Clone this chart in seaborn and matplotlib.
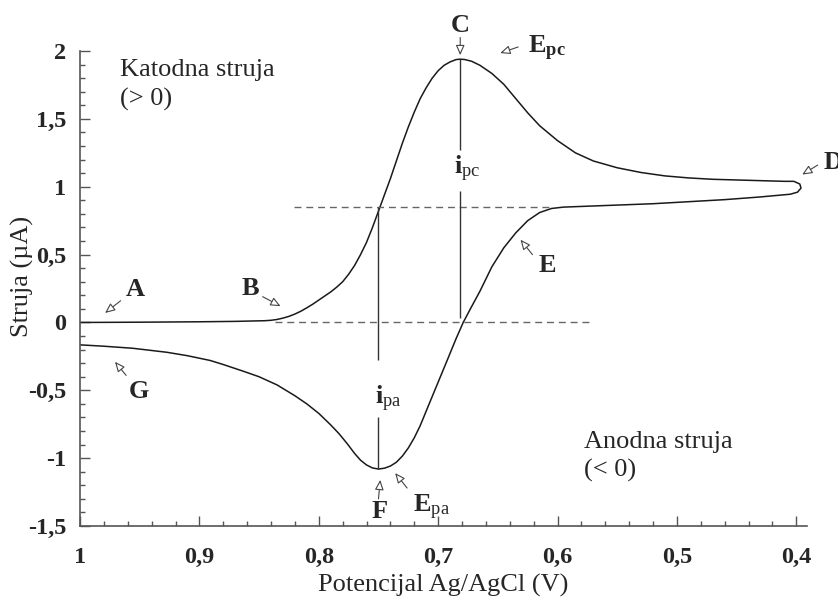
import matplotlib
matplotlib.use("Agg")
import matplotlib.pyplot as plt
import seaborn as sns
import pandas as pd
from matplotlib.ticker import MultipleLocator, FuncFormatter

# Cyclic voltammogram (forward scan, then return scan)
potential = [1.000, 0.950, 0.900, 0.870, 0.850, 0.845, 0.840, 0.835, 0.830, 0.825,
             0.820, 0.815, 0.810, 0.805, 0.800, 0.795, 0.790, 0.785, 0.780, 0.775,
             0.770, 0.765, 0.760, 0.755, 0.750, 0.745, 0.740, 0.735, 0.730, 0.725,
             0.720, 0.715, 0.710, 0.705, 0.700, 0.695, 0.690, 0.685, 0.682, 0.678,
             0.672, 0.665, 0.655, 0.645, 0.635, 0.625, 0.615, 0.600,
             0.585, 0.570, 0.550, 0.530, 0.510, 0.490, 0.470, 0.450, 0.430, 0.410,
             0.402, 0.397, 0.396, 0.399, 0.405,
             0.430, 0.460, 0.490, 0.520, 0.550, 0.580, 0.595, 0.605, 0.615, 0.625,
             0.635, 0.645, 0.655, 0.665, 0.673, 0.679, 0.685, 0.692, 0.700, 0.708,
             0.715, 0.720, 0.725, 0.730, 0.735, 0.740, 0.745, 0.750, 0.755, 0.760,
             0.765, 0.770, 0.776, 0.783, 0.790, 0.800, 0.810, 0.820, 0.835, 0.850,
             0.863, 0.880, 0.891, 0.910, 0.927, 0.956, 0.980, 1.000]
current = [0.000, 0.002, 0.005, 0.008, 0.012, 0.013, 0.016, 0.022, 0.032, 0.045,
           0.062, 0.083, 0.108, 0.135, 0.165, 0.195, 0.225, 0.260, 0.300, 0.355,
           0.420, 0.500, 0.590, 0.700, 0.820, 0.940, 1.060, 1.190, 1.320, 1.440,
           1.550, 1.650, 1.730, 1.800, 1.855, 1.895, 1.920, 1.937, 1.940, 1.938,
           1.925, 1.895, 1.835, 1.755, 1.650, 1.545, 1.450, 1.340,
           1.250, 1.190, 1.140, 1.105, 1.080, 1.065, 1.055, 1.050, 1.045, 1.040,
           1.040, 1.020, 0.990, 0.960, 0.945,
           0.925, 0.905, 0.890, 0.875, 0.865, 0.855, 0.850, 0.840, 0.810, 0.750,
           0.660, 0.550, 0.410, 0.230, 0.100, 0.000, -0.120, -0.270, -0.440, -0.610,
           -0.760, -0.850, -0.925, -0.985, -1.030, -1.058, -1.074, -1.080, -1.072, -1.050,
           -1.015, -0.965, -0.895, -0.820, -0.755, -0.670, -0.600, -0.540, -0.460, -0.400,
           -0.360, -0.310, -0.280, -0.245, -0.220, -0.190, -0.175, -0.165]

# construction lines
baseline_levels = [0.0, 0.85]
baseline_from = [0.837, 0.821]
baseline_to = [0.574, 0.605]
peak_e = [0.682, 0.750]
peak_i = [1.94, -1.08]

df = pd.DataFrame({"E": potential, "I": current})

sns.set_theme(style="ticks")
plt.rcParams["font.family"] = ["Liberation Serif", "DejaVu Serif"]
plt.rcParams["mathtext.fontset"] = "custom"
plt.rcParams["mathtext.rm"] = "Liberation Serif"
plt.rcParams["mathtext.bf"] = "Liberation Serif:bold"
plt.rcParams["mathtext.it"] = "Liberation Serif:italic"

fs = 19
fig = plt.figure(figsize=(8.38, 6.02), dpi=100)
ax = fig.add_axes([0.0955, 0.1262, 0.8675, 0.789])

sns.lineplot(data=df, x="E", y="I", sort=False, estimator=None,
             color="#1a1a1a", lw=1.1, ax=ax)

for lev, a, b in zip(baseline_levels, baseline_from, baseline_to):
    ax.hlines(lev, a, b, colors="#666666", linestyles=(0, (5, 3.5)), lw=1.0)

# i_pc : peak line split round the label
ax.vlines(peak_e[0], 1.27, peak_i[0], colors="#333333", lw=1.0)
ax.vlines(peak_e[0], 0.03, 0.97, colors="#333333", lw=1.0)
# i_pa
ax.vlines(peak_e[1], -0.28, 0.85, colors="#333333", lw=1.0)
ax.vlines(peak_e[1], peak_i[1], -0.70, colors="#333333", lw=1.0)

ax.set_xlim(1.0, 0.391)
ax.set_ylim(-1.5, 2.0)
ax.xaxis.set_major_locator(MultipleLocator(0.1))
ax.xaxis.set_minor_locator(MultipleLocator(0.02))
ax.yaxis.set_major_locator(MultipleLocator(0.5))
ax.yaxis.set_minor_locator(MultipleLocator(0.1))
comma = FuncFormatter(lambda v, p: f"{round(v, 2):g}".replace(".", ","))
ax.xaxis.set_major_formatter(comma)
ax.yaxis.set_major_formatter(comma)

ax.tick_params(which="major", direction="in", length=7, width=1.0, color="#555555",
               labelsize=17.5)
ax.tick_params(which="minor", direction="in", length=3.5, width=1.0, color="#555555")
ax.tick_params(axis="x", pad=15)
ax.tick_params(axis="y", pad=10)
for t in ax.get_xticklabels() + ax.get_yticklabels():
    t.set_fontweight("bold")

sns.despine(ax=ax)
for s in ["left", "bottom"]:
    ax.spines[s].set_color("#555555")
    ax.spines[s].set_linewidth(1.2)

ax.set_xlabel("Potencijal Ag/AgCl (V)", fontsize=fs, labelpad=4)
ax.set_ylabel("Struja (µA)", fontsize=fs)
ax.yaxis.set_label_coords(-0.064, 0.526)

arrow = dict(arrowstyle="-|>,head_length=0.5,head_width=0.22", fc="white",
             ec="#444444", lw=0.8, shrinkA=0, shrinkB=0)

labels = [
    ("A", (0.954, 0.24), (0.979, 0.07), (0.966, 0.16)),
    ("B", (0.8575, 0.25), (0.832, 0.12), (0.847, 0.19)),
    ("C", (0.6815, 2.19), (0.6815, 1.97), (0.6815, 2.10)),
    ("E", (0.6085, 0.42), (0.631, 0.61), (0.621, 0.50)),
    ("F", (0.749, -1.39), (0.7485, -1.16), (0.750, -1.30)),
    ("G", (0.9505, -0.51), (0.9707, -0.29), (0.9614, -0.39)),
]
for txt, pos, tip, tail in labels:
    ax.text(pos[0], pos[1], txt, fontsize=fs, fontweight="bold", ha="center",
            va="center", clip_on=False)
    ax.annotate("", xy=tip, xytext=tail, arrowprops=arrow, annotation_clip=False)

# D sits at the right edge, partly outside the picture as in the original
ax.text(0.3775, 1.18, "D", fontsize=fs, fontweight="bold", ha="left",
        va="center", clip_on=False)
ax.annotate("", xy=(0.395, 1.09), xytext=(0.382, 1.16), arrowprops=arrow,
            annotation_clip=False)

ax.text(0.625, 2.02, r"$\mathbf{E_{pc}}$", fontsize=fs, ha="left", va="center",
        clip_on=False)
ax.annotate("", xy=(0.648, 1.985), xytext=(0.633, 2.03), arrowprops=arrow,
            annotation_clip=False)
ax.text(0.721, -1.36, r"$\mathbf{E}_{\mathrm{pa}}$", fontsize=fs, ha="left",
        va="center", clip_on=False)
ax.annotate("", xy=(0.736, -1.11), xytext=(0.726, -1.22), arrowprops=arrow,
            annotation_clip=False)

ax.text(0.6865, 1.13, r"$\mathbf{i}_{\mathrm{pc}}$", fontsize=fs, ha="left",
        va="center")
ax.text(0.7525, -0.56, r"$\mathbf{i}_{\mathrm{pa}}$", fontsize=fs, ha="left",
        va="center")

ax.text(0.9665, 1.86, "Katodna struja", fontsize=fs, ha="left", va="center")
ax.text(0.9665, 1.64, "(> 0)", fontsize=fs, ha="left", va="center")
ax.text(0.578, -0.88, "Anodna struja", fontsize=fs, ha="left", va="center")
ax.text(0.578, -1.09, "(< 0)", fontsize=fs, ha="left", va="center")

fig.savefig("out.png", dpi=100)
